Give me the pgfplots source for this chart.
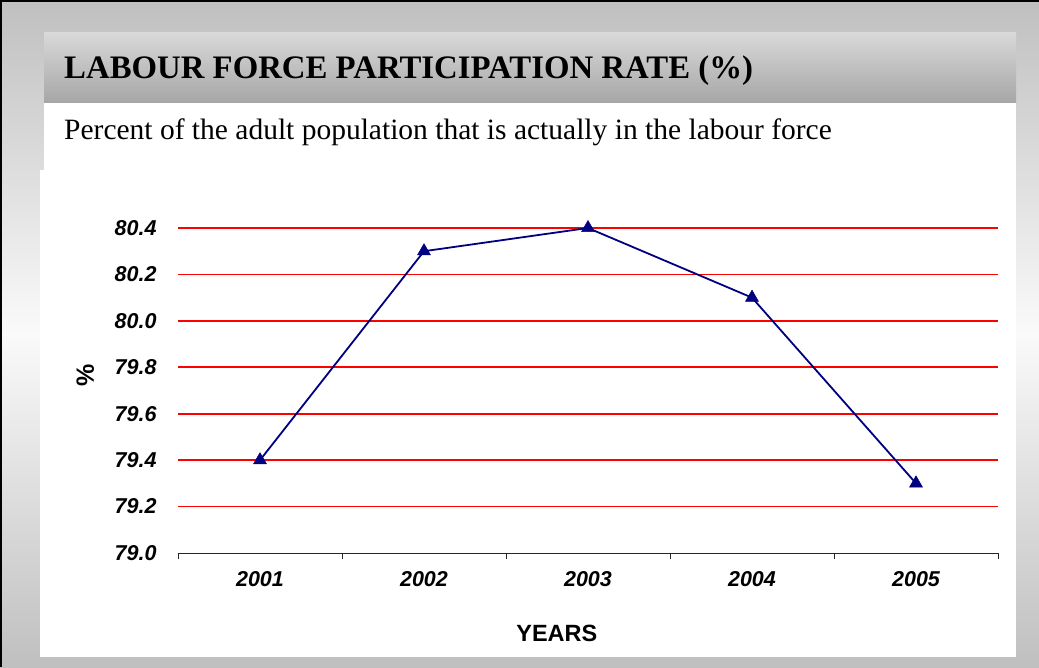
\documentclass[border=0pt]{standalone}
\usepackage{fontspec}
\setmainfont{Liberation Serif}
\newfontfamily\arial{Liberation Sans}
\usepackage{pgfplots}
\pgfplotsset{compat=1.18}
\definecolor{navyline}{RGB}{0,0,128}

\begin{document}
\begin{tikzpicture}[x=1pt,y=1pt]
% page frame and background
\useasboundingbox (0,0) rectangle (1039,667);
\shade[top color=black!25, bottom color=black!25, middle color=black!2] (0,0) rectangle (1039,667);
\draw[line width=2.5pt] (1.2,0) -- (1.2,665.8) -- (1039,665.8);
% title band
\shade[top color=black!15, middle color=white, bottom color=black!35] (44,564) rectangle (1016,634);
\node[anchor=base west, inner sep=0pt, font=\fontsize{32.8}{36}\selectfont\bfseries] at (64,588) {LABOUR FORCE PARTICIPATION RATE (\%)};
% white panel
\fill[white] (44,10) rectangle (1016,564);
\fill[white] (40,10) rectangle (1016,497);
\node[anchor=base west, inner sep=0pt, font=\fontsize{29.5}{32}\selectfont] at (64,527) {Percent of the adult population that is actually in the labour force};

\coordinate (ax) at (178,114);
\begin{axis}[
  at={(ax)}, anchor=south west,
  scale only axis, width=820pt, height=325pt,
  xmin=0.5, xmax=5.5, ymin=79.0, ymax=80.4,
  axis x line*=bottom, axis y line*=left,
  y axis line style={draw=none},
  ytick={79.2,79.4,...,80.41},
  extra y ticks={79.0}, extra y tick style={grid=none},
  ytick style={draw=none},
  ymajorgrids, grid style={red, line width=1.6pt},
  yticklabel style={/pgf/number format/fixed, /pgf/number format/fixed zerofill, /pgf/number format/precision=1, xshift=-12pt},
  xtick={0.5,1.5,...,5.5}, xticklabels={},
  x tick style={black!85, line width=0.9pt},
  tick align=outside, major tick length=6pt,
  extra x ticks={1,2,3,4,5},
  extra x tick labels={2001,2002,2003,2004,2005},
  extra x tick style={major tick length=0pt, grid=none, xticklabel style={yshift=-15pt}},
  axis line style={line width=0.9pt, black!85},
  ticklabel style={font=\arial\bfseries\itshape\fontsize{21.5}{24}\selectfont},
  /pgf/number format/assume math mode=true,
  xlabel={YEARS}, ylabel={\%},
  every axis x label/.style={at={(axis description cs:0.462,-0.246)}, anchor=center, font=\arial\bfseries\fontsize{23.5}{26}\selectfont},
  every axis y label/.style={at={(axis description cs:-0.113,0.548)}, anchor=center, rotate=90, font=\arial\bfseries\fontsize{25}{28}\selectfont},
  clip=false,
]
\addplot[navyline, line width=1.8pt, mark=triangle*, mark size=7.5pt, mark options={fill=navyline, draw=navyline, line width=0.5pt}] coordinates {
  (1,79.4) (2,80.3) (3,80.4) (4,80.1) (5,79.3)
};
\end{axis}
\end{tikzpicture}
\end{document}
